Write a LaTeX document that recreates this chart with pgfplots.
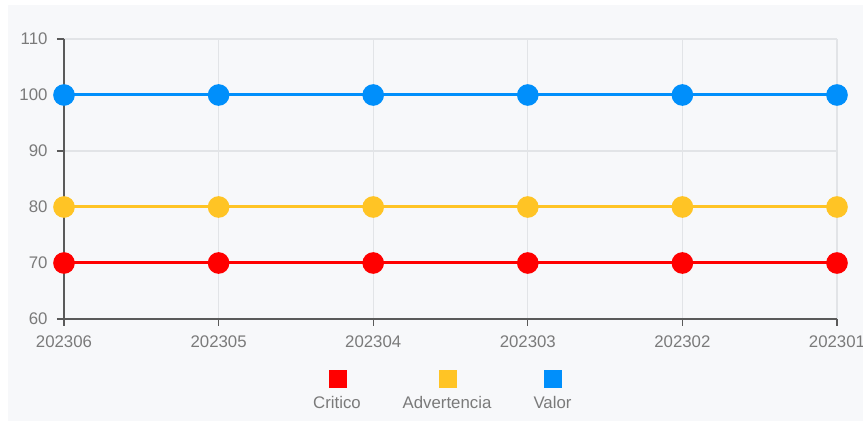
\documentclass[border=0pt]{standalone}
\usepackage{pgfplots}
\pgfplotsset{compat=1.18}
\usepackage{fontspec}
\setmainfont{Liberation Sans}
\definecolor{bgc}{HTML}{F7F8FA}
\definecolor{gridc}{HTML}{E2E4E7}
\definecolor{axc}{HTML}{5A5A5A}
\definecolor{labc}{HTML}{7A7A7A}
\definecolor{crit}{HTML}{FF0000}
\definecolor{adv}{HTML}{FFC425}
\definecolor{val}{HTML}{008FFB}
\begin{document}
\begin{tikzpicture}[x=1pt,y=1pt]
\useasboundingbox (0,0) rectangle (863,423);
\fill[bgc] (8,2) rectangle (863,418);
\begin{axis}[
  at={(64pt,104pt)}, anchor=south west,
  scale only axis, width=773pt, height=280pt,
  xmin=0, xmax=5, ymin=60, ymax=110,
  xtick={0,1,2,3,4,5},
  xticklabels={202306,202305,202304,202303,202302,202301},
  ytick={60,70,80,90,100,110},
  grid=major,
  major grid style={color=gridc, line width=1.2pt},
  axis x line*=bottom, axis y line*=left,
  axis line style={color=axc, line width=1.2pt},
  tick style={color=axc, line width=1.2pt},
  tick align=outside, major tick length=7pt,
  clip=false,
  ticklabel style={font=\fontsize{16.8}{17}\selectfont, text=labc},
  /pgf/number format/assume math mode=true,
  xticklabel style={yshift=-6pt},
  yticklabel style={xshift=-6pt},
]
\addplot[color=crit, line width=3pt, mark=*, mark size=9.3pt, mark options={solid, fill=crit, draw=none}]
  coordinates {(0,70) (1,70) (2,70) (3,70) (4,70) (5,70)};
\addplot[color=adv, line width=3pt, mark=*, mark size=9.3pt, mark options={solid, fill=adv, draw=none}]
  coordinates {(0,80) (1,80) (2,80) (3,80) (4,80) (5,80)};
\addplot[color=val, line width=3pt, mark=*, mark size=9.3pt, mark options={solid, fill=val, draw=none}]
  coordinates {(0,100) (1,100) (2,100) (3,100) (4,100) (5,100)};
\end{axis}
% legend
\fill[crit] (328.5,35) rectangle (346.5,53);
\fill[adv] (438.5,35) rectangle (456.5,53);
\fill[val] (543.5,35) rectangle (561.5,53);
\node[text=labc, font=\fontsize{16.8}{17}\selectfont, anchor=base] at (337,14) {Critico};
\node[text=labc, font=\fontsize{16.8}{17}\selectfont, anchor=base] at (447,14) {Advertencia};
\node[text=labc, font=\fontsize{16.8}{17}\selectfont, anchor=base] at (552.5,14) {Valor};
\end{tikzpicture}
\end{document}
